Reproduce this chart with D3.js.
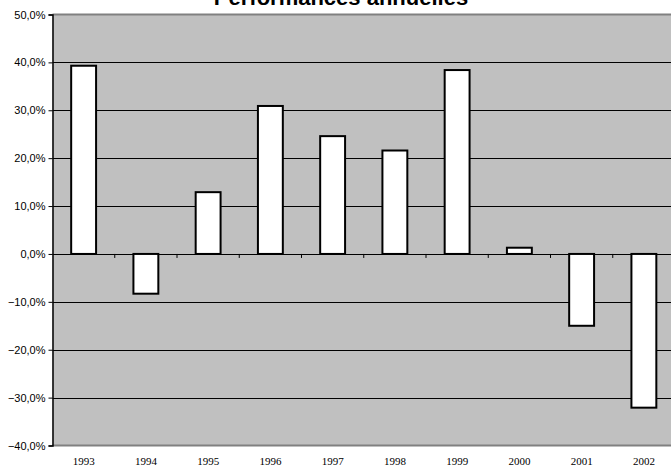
<!DOCTYPE html>
<html>
<head>
<meta charset="utf-8">
<script src="https://cdn.jsdelivr.net/npm/d3@7"></script>
<style>
  body { margin: 0; background: white; }
  svg { display: block; }
</style>
</head>
<body>
<div id="container"></div>
<script>
let w = 671;
let h = 466;

// data
let years = ["1993","1994","1995","1996","1997","1998","1999","2000","2001","2002"];
let perf = [39.3, -8.3, 12.9, 30.9, 24.6, 21.6, 38.4, 1.3, -15.0, -32.1];
let yTicks = [-40, -30, -20, -10, 0, 10, 20, 30, 40, 50];

let plotLeft = 52.5, plotRight = 675, plotTop = 14.5, plotBottom = 445.5;

let viz = d3.select("#container").append("svg")
    .attr("width", w)
    .attr("height", h);

let x = d3.scaleBand().domain(years).range([plotLeft, plotRight]).paddingInner(0.6).paddingOuter(0.3);
let xb = d3.scaleBand().domain(years).range([plotLeft, plotRight]);
let y = d3.scaleLinear().domain([-40, 50]).range([plotBottom, plotTop]);

let fmt = function(v){ return d3.format(".1f")(v).replace(".", ",") + "%"; };

// plot background
viz.append("rect")
    .attr("x", plotLeft).attr("y", plotTop)
    .attr("width", plotRight - plotLeft).attr("height", plotBottom - plotTop)
    .attr("fill", "#c0c0c0");

// gridlines
viz.append("g").selectAll("line")
    .data(yTicks.filter(function(d){ return d > -40 && d < 50; }))
    .enter().append("line")
      .attr("x1", plotLeft).attr("x2", plotRight)
      .attr("y1", function(d){ return Math.round(y(d)) + 0.5; })
      .attr("y2", function(d){ return Math.round(y(d)) + 0.5; })
      .attr("stroke", "#000")
      .attr("stroke-width", 1);

// top / bottom border
viz.append("line").attr("x1", plotLeft).attr("x2", plotRight).attr("y1", plotTop).attr("y2", plotTop)
    .attr("stroke", "#808080").attr("stroke-width", 2);
viz.append("line").attr("x1", plotLeft).attr("x2", plotRight).attr("y1", plotBottom).attr("y2", plotBottom)
    .attr("stroke", "#808080").attr("stroke-width", 2);

// bars
viz.append("g").selectAll("rect")
    .data(perf)
    .enter().append("rect")
      .attr("x", function(d, i){ return x(years[i]); })
      .attr("y", function(d){ return y(Math.max(0, d)); })
      .attr("width", x.bandwidth())
      .attr("height", function(d){ return Math.abs(y(d) - y(0)); })
      .attr("fill", "white")
      .attr("stroke", "#000")
      .attr("stroke-width", 2);

// x ticks on zero line
viz.append("g").selectAll("line")
    .data(years.slice(1))
    .enter().append("line")
      .attr("x1", function(d){ return xb(d); })
      .attr("x2", function(d){ return xb(d); })
      .attr("y1", y(0)).attr("y2", y(0) + 4)
      .attr("stroke", "#000");

// y axis
let yAxis = d3.axisLeft(y).tickValues(yTicks).tickFormat(fmt).tickSize(4);
let gy = viz.append("g").attr("transform", "translate(" + plotLeft + ",0)").call(yAxis);
gy.select(".domain").attr("stroke", "#000").attr("stroke-width", 1.5);
gy.selectAll("text")
    .attr("font-family", "Arial, 'Liberation Sans', sans-serif")
    .attr("font-size", 11)
    .attr("fill", "#000")
    .attr("x", -7);

// x labels
viz.append("g").selectAll("text")
    .data(years)
    .enter().append("text")
      .attr("x", function(d){ return xb(d) + xb.bandwidth() / 2; })
      .attr("y", 465)
      .attr("text-anchor", "middle")
      .attr("font-family", "'Times New Roman', 'Liberation Serif', serif")
      .attr("font-size", 11)
      .text(function(d){ return d; });

// title (cut at the top edge, as in the original)
viz.append("text")
    .attr("x", 341).attr("y", 5)
    .attr("text-anchor", "middle")
    .attr("font-family", "Arial, 'Liberation Sans', sans-serif")
    .attr("font-weight", "bold")
    .attr("font-size", 22)
    .text("Performances annuelles");
</script>
</body>
</html>
